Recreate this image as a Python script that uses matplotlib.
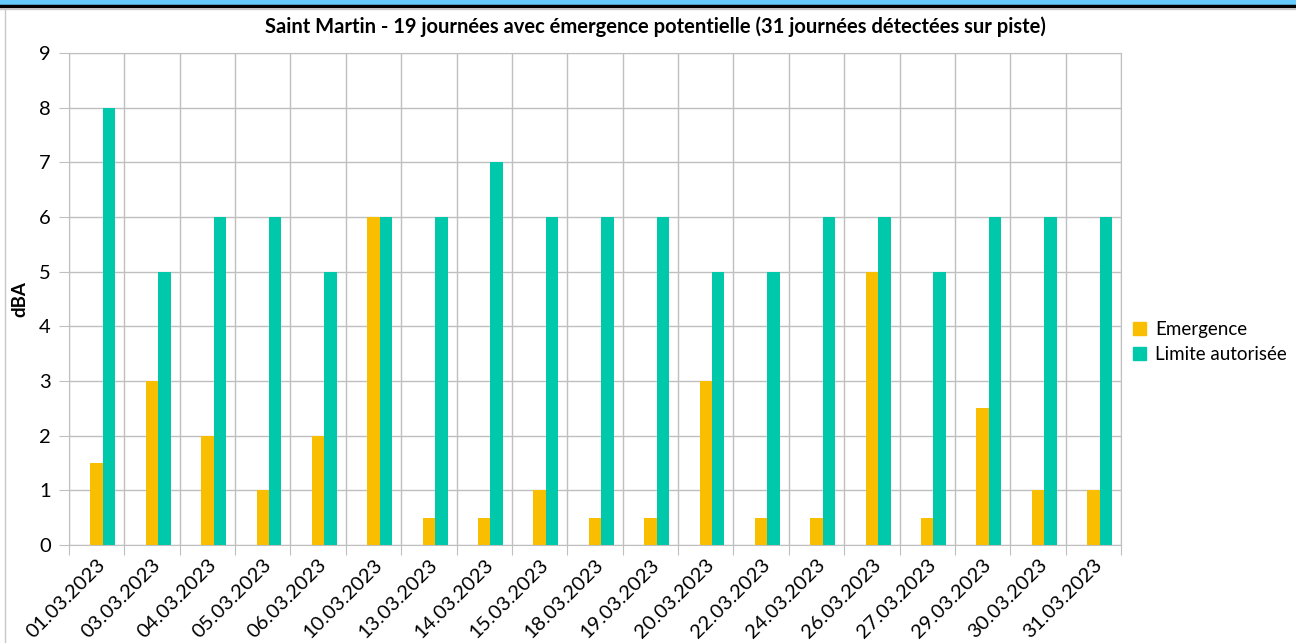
import numpy as np
import matplotlib.pyplot as plt
from matplotlib.patches import Rectangle
from matplotlib.lines import Line2D

plt.rcParams['font.family'] = ['Lato', 'DejaVu Sans']

# data
dates = ['01.03.2023', '03.03.2023', '04.03.2023', '05.03.2023', '06.03.2023',
         '10.03.2023', '13.03.2023', '14.03.2023', '15.03.2023', '18.03.2023',
         '19.03.2023', '20.03.2023', '22.03.2023', '24.03.2023', '26.03.2023',
         '27.03.2023', '29.03.2023', '30.03.2023', '31.03.2023']
emergence = [1.5, 3, 2, 1, 2, 6, 0.5, 0.5, 1, 0.5, 0.5, 3, 0.5, 0.5, 5, 0.5, 2.5, 1, 1]
limite = [8, 5, 6, 6, 5, 6, 6, 7, 6, 6, 6, 5, 5, 6, 6, 5, 6, 6, 6]

c_em = '#F9BE00'
c_lim = '#00C8AA'
grid_c = '#BFBFBF'

fig = plt.figure(figsize=(12.96, 6.43), dpi=100)
ax = fig.add_axes([69/1296, 1 - 545/643, (1121 - 69)/1296, (545 - 53)/643])

x = np.arange(len(dates))
w = 0.225
ax.bar(x, emergence, w, color=c_em, label='Emergence', zorder=3)
ax.bar(x + w, limite, w, color=c_lim, label='Limite autorisée', zorder=3)

ax.set_xlim(-0.5, len(dates) - 0.5)
ax.set_ylim(0, 9)
ax.set_yticks(range(0, 10))
ax.tick_params(axis='y', labelsize=14.5, length=7, color=grid_c, pad=6)

# category boundaries carry the vertical grid and the tick marks
ax.set_xticks(np.arange(-0.5, len(dates)), minor=False)
ax.set_xticklabels([])
ax.set_xticks(x, minor=True)
ax.set_xticklabels(dates, minor=True, rotation=45, ha='right', va='top',
                   rotation_mode='anchor', fontsize=14.5)
ax.tick_params(axis='x', which='major', length=7, color=grid_c)
ax.tick_params(axis='x', which='minor', length=0, pad=8)

ax.grid(True, which='major', color=grid_c, lw=1, zorder=0)
ax.set_axisbelow(True)
for s in ax.spines.values():
    s.set_color(grid_c)

ax.set_ylabel('dBA', fontsize=13.5, fontweight='bold', labelpad=8)
fig.text(0.506, 1 - 27/643, 'Saint Martin - 19 journées avec émergence potentielle (31 journées détectées sur piste)',
         ha='center', va='center', fontsize=14.5, fontweight='bold')

handles = [Rectangle((0, 0), 1, 1, color=c_em), Rectangle((0, 0), 1, 1, color=c_lim)]
fig.legend(handles, ['Emergence', 'Limite autorisée'], loc='center left',
           bbox_to_anchor=(1129/1296, 1 - 342/643), frameon=False, fontsize=13.5,
           handlelength=0.7, handleheight=0.7, handletextpad=0.5, labelspacing=0.45,
           borderpad=0.2, borderaxespad=0)

# frame around the picture
fig.patches.append(Rectangle((0, 1 - 5/643), 1, 5/643, transform=fig.transFigure,
                             color='#66CCFF', zorder=0))
fig.lines.append(Line2D([0, 1], [1 - 6/643, 1 - 6/643], transform=fig.transFigure,
                        color='black', lw=2.5))
fig.lines.append(Line2D([0, 1], [1 - 8.5/643, 1 - 8.5/643], transform=fig.transFigure,
                        color='#C8C8C8', lw=1))
fig.lines.append(Line2D([5/1296, 5/1296], [0, 1 - 8.5/643], transform=fig.transFigure,
                        color='#C8C8C8', lw=1))

fig.savefig('out.png', dpi=100)
